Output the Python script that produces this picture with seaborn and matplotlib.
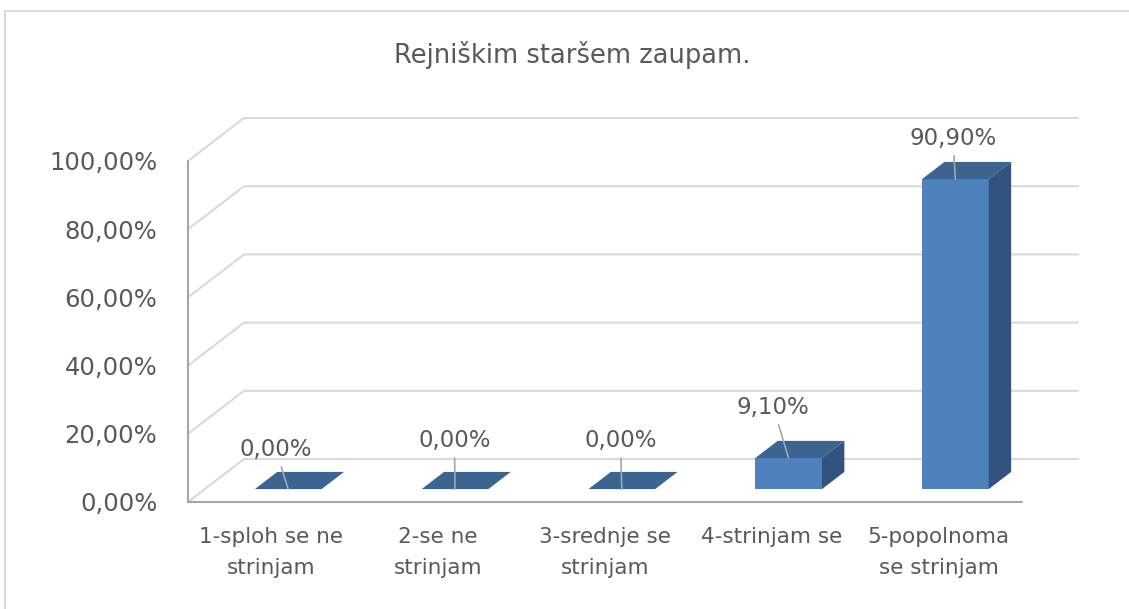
import numpy as np
import pandas as pd
import matplotlib
matplotlib.use("Agg")
import matplotlib.pyplot as plt
import matplotlib.transforms as mtransforms
from matplotlib.patches import Polygon
from matplotlib.lines import Line2D
import seaborn as sns

categories = ["1-sploh se ne\nstrinjam", "2-se ne\nstrinjam", "3-srednje se\nstrinjam",
              "4-strinjam se", "5-popolnoma\nse strinjam"]
shares = [0.0, 0.0, 0.0, 9.1, 90.9]
y_ticks = [0, 20, 40, 60, 80, 100]
title = "Rejniškim staršem zaupam."

# where the data labels sit, relative to the front top edge of each bar (points)
label_offsets = [(-9, 28.5), (-0.4, 35), (-1, 35), (-11, 36.5), (-1.8, 29.5)]

# fake 3-D: full floor depth in data units, bars occupy 0.3..0.7 of the depth
DX, DY = 0.336, 12.6
D0, D1 = 0.3, 0.7

FRONT = "#4F81BD"
TOP = "#3C6491"
SIDE = "#32537F"
GRID = "#D9D9D9"
AXIS = "#A6A6A6"
TXT = "#595959"


def pct(v):
    return f"{v:.2f}%".replace(".", ",")


sns.set_style("white")
plt.rcParams["font.family"] = ["DejaVu Sans"]

df = pd.DataFrame({"kategorija": categories, "delez": shares})

fig = plt.figure(figsize=(11.29, 6.09), dpi=100)
ax = fig.add_axes([188 / 1129, 107 / 609, 890 / 1129, 384 / 609])
ax.set_facecolor("none")

sns.barplot(data=df, x="kategorija", y="delez", color=FRONT, saturation=1,
            width=0.4, bottom=D0 * DY, edgecolor="none", linewidth=0,
            zorder=3, ax=ax)
bars = list(ax.patches)

n = len(categories)
x0 = -0.5 - D0 * DX
ax.set_xlim(x0, x0 + n + DX)
ax.set_ylim(0, 100 + DY)

# walls: left side diagonals + back gridlines
for v in y_ticks:
    ax.plot([x0, x0 + DX, x0 + n + DX], [v, v + DY, v + DY],
            color=GRID, lw=1.5, zorder=1, clip_on=False)
# front axis and floor edge
ax.plot([x0, x0], [0, 100], color=AXIS, lw=1.5, zorder=2, clip_on=False)
ax.plot([x0, x0 + n], [0, 0], color=AXIS, lw=1.5, zorder=2, clip_on=False)

# top and side faces of the bars
dxb, dyb = (D1 - D0) * DX, (D1 - D0) * DY
for bar in bars:
    x, w = bar.get_x(), bar.get_width()
    yb, h = bar.get_y(), bar.get_height()
    yt = yb + h
    top = [(x, yt), (x + w, yt), (x + w + dxb, yt + dyb), (x + dxb, yt + dyb)]
    ax.add_patch(Polygon(top, closed=True, facecolor=TOP, edgecolor="none", zorder=3))
    if h > 0:
        side = [(x + w, yb), (x + w, yt), (x + w + dxb, yt + dyb), (x + w + dxb, yb + dyb)]
        ax.add_patch(Polygon(side, closed=True, facecolor=SIDE, edgecolor="none", zorder=3))

for bar, v, off in zip(bars, shares, label_offsets):
    cx = bar.get_x() + bar.get_width() / 2
    ax.annotate(pct(v), xy=(cx, bar.get_y() + bar.get_height()), xytext=off,
                textcoords="offset points", ha="center", va="center",
                fontsize=16.5, color=TXT, zorder=5,
                arrowprops=dict(arrowstyle="-", color=AXIS, lw=1.2, shrinkA=2, shrinkB=0))

# category labels sit under the front edge of the floor
xt = np.arange(n) - D0 * DX
ax.set_xticks(xt, [""] * n)
trans = mtransforms.blended_transform_factory(ax.transData, ax.transAxes)
for x, lab in zip(xt, categories):
    ax.text(x, -25 / 384, lab, transform=trans, ha="center", va="top",
            fontsize=15.5, color=TXT, linespacing=1.69)

ax.set_yticks(y_ticks, [pct(t) for t in y_ticks])
ax.tick_params(axis="x", length=0)
ax.tick_params(axis="y", length=0, pad=22, labelsize=17.5, labelcolor=TXT)
ax.set_xlabel("")
ax.set_ylabel("")
sns.despine(ax=ax, left=True, bottom=True)

fig.text(572 / 1129, 1 - 63 / 609, title, ha="center", va="baseline",
         fontsize=18.5, color=TXT)

# light chart-area frame (only top and left edges are visible in the crop)
fig.add_artist(Line2D([5 / 1129, 5 / 1129, 1.01], [0, 1 - 11 / 609, 1 - 11 / 609],
                      transform=fig.transFigure, color=GRID, lw=1.5))

fig.savefig("out.png", dpi=100)
